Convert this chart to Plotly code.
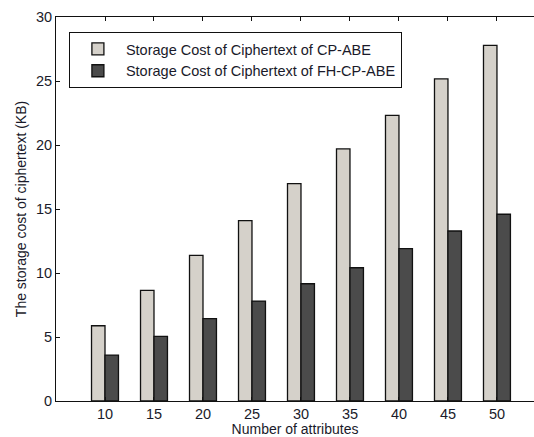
import plotly.graph_objects as go

attributes = [10, 15, 20, 25, 30, 35, 40, 45, 50]
cp_abe = [5.88, 8.65, 11.38, 14.09, 16.98, 19.69, 22.32, 25.16, 27.79]
fh_cp_abe = [3.59, 5.05, 6.43, 7.81, 9.16, 10.41, 11.90, 13.28, 14.59]
y_ticks = [0, 5, 10, 15, 20, 25, 30]

font_family = "Liberation Sans, Arial, sans-serif"
text_color = "#1a1a2a"

fig = go.Figure()
fig.add_trace(go.Bar(
    x=attributes, y=cp_abe, name="Storage Cost of Ciphertext of CP-ABE",
    marker=dict(color="#d5d1ca", line=dict(color="#111111", width=1.3)),
))
fig.add_trace(go.Bar(
    x=attributes, y=fh_cp_abe, name="Storage Cost of Ciphertext of FH-CP-ABE",
    marker=dict(color="#4b4b4b", line=dict(color="#111111", width=1.3)),
))

fig.update_layout(
    width=534, height=437,
    margin=dict(l=56, r=0, t=17, b=36, autoexpand=False),
    paper_bgcolor="white", plot_bgcolor="white",
    barmode="group", bargap=0.45, bargroupgap=0,
    font=dict(family=font_family, size=14.5, color=text_color),
    showlegend=True,
    legend=dict(
        x=0.027, y=0.961, xanchor="left", yanchor="top",
        bgcolor="white", bordercolor="#111111", borderwidth=1,
        font=dict(size=14.5, color=text_color),
        tracegroupgap=0, itemwidth=46,
    ),
    xaxis=dict(
        range=[5, 53.78], tickvals=attributes,
        ticks="inside", ticklen=4, tickcolor="#111111",
        showline=True, linecolor="#111111", linewidth=1, mirror="ticks",
        showgrid=False, zeroline=False, automargin=False,
        tickfont=dict(size=14.5),
        title=dict(text="Number of attributes", standoff=1, font=dict(size=14)),
    ),
    yaxis=dict(
        range=[0, 30], tickvals=y_ticks,
        ticks="inside", ticklen=4, tickcolor="#111111",
        showline=True, linecolor="#111111", linewidth=1, mirror=False,
        showgrid=False, zeroline=False, automargin=False,
        tickfont=dict(size=14.5),
        title=dict(text="The storage cost of ciphertext (KB)", standoff=6, font=dict(size=14)),
    ),
)

fig.write_html(
    "out.html",
    config={"displayModeBar": False},
    post_script="document.body.style.margin='0px';document.body.style.overflow='hidden';",
)
